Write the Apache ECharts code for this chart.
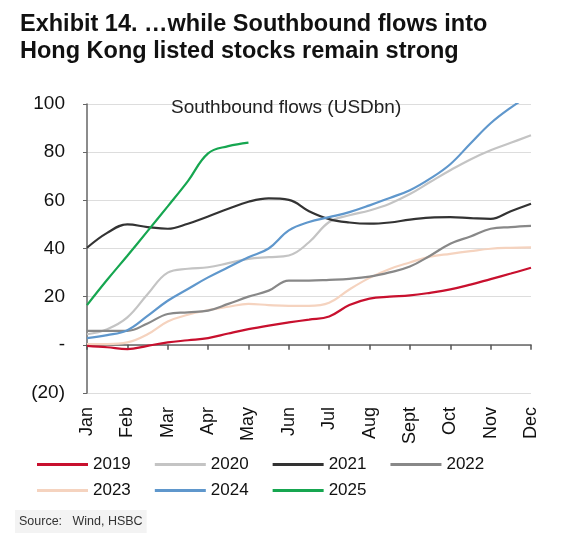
<!DOCTYPE html>
<html>
<head>
<meta charset="utf-8">
<script src="https://cdn.jsdelivr.net/npm/echarts@6/dist/echarts.min.js"></script>
<style>
html,body{margin:0;padding:0;background:#fff;}
#chart{width:572px;height:544px;}
</style>
</head>
<body>
<div id="chart"></div>
<script>
// Half-month sample points (Jan, mid-Jan, Feb, ...)
const categories = ['Jan','','Feb','','Mar','','Apr','','May','','Jun','','Jul','','Aug','','Sept','','Oct','','Nov','','Dec'];
const yTicks = [-20, 0, 20, 40, 60, 80, 100];

const s2019 = [-0.4, -1.0, -1.8, -0.4, 1.0, 1.9, 2.8, 4.7, 6.5, 8.0, 9.3, 10.5, 11.8, 16.5, 19.2, 20.0, 20.5, 21.6, 23.0, 25.0, 27.3, 29.6, 32.0];
const s2020 = [4.4, 6.5, 11.4, 21.0, 30.0, 31.6, 32.2, 33.9, 35.7, 36.4, 37.1, 42.6, 51.0, 53.8, 55.8, 58.6, 62.6, 67.6, 72.5, 77.0, 80.8, 83.9, 87.0];
const s2021 = [40.3, 46.5, 50.0, 48.9, 48.2, 50.3, 53.3, 56.5, 59.4, 60.8, 60.2, 55.5, 52.2, 50.8, 50.3, 50.8, 52.0, 52.8, 53.0, 52.6, 52.3, 55.5, 58.6];
const s2022 = [5.8, 5.8, 5.8, 8.9, 12.8, 13.5, 14.2, 17.0, 20.0, 22.5, 26.7, 26.7, 27.0, 27.4, 28.3, 30.1, 32.5, 37.0, 42.0, 45.0, 48.2, 48.9, 49.4];
const s2023 = [0.3, 0.3, 1.0, 4.4, 9.7, 12.5, 14.4, 15.8, 17.0, 16.5, 16.2, 16.2, 17.5, 23.0, 27.8, 31.5, 34.2, 36.6, 37.8, 38.9, 39.9, 40.3, 40.5];
const s2024 = [2.8, 4.0, 6.1, 12.0, 18.3, 23.2, 28.0, 32.2, 36.4, 40.0, 47.5, 51.0, 53.0, 55.1, 57.9, 61.0, 64.2, 69.0, 75.0, 83.6, 92.0, 98.5, 104.0];
const s2025 = [16.5, 27.0, 37.0, 47.2, 57.5, 68.0, 79.5, 82.5, 84.0];

const seriesNames = ['2019','2020','2021','2022','2023','2024','2025'];
const seriesData = [s2019, s2020, s2021, s2022, s2023, s2024, s2025];
const seriesColors = ['#C8102E','#C4C4C4','#333333','#888888','#F5D3BF','#5F97CC','#16A650'];

const FONT = "'Liberation Sans', Arial, sans-serif";
const chart = echarts.init(document.getElementById('chart'), null, {renderer:'canvas'});

const series = seriesNames.map((n, i) => ({
  name: n,
  type: 'line',
  data: seriesData[i],
  smooth: 0.4,
  showSymbol: false,
  symbol: 'none',
  clip: true,
  lineStyle: {width: 2.2, color: seriesColors[i]},
  itemStyle: {color: seriesColors[i]},
  z: (n === '2023') ? 1 : 2
}));

const legendCommon = {
  left: 37,
  padding: 0,
  orient: 'horizontal',
  icon: 'rect',
  itemWidth: 51,
  itemHeight: 3,
  itemGap: 24,
  textStyle: {fontFamily: FONT, fontSize: 17, color: '#111'},
  selectedMode: false
};

chart.setOption({
  animation: false,
  title: [{
    text: 'Exhibit 14. …while Southbound flows into\nHong Kong listed stocks remain strong',
    left: 20, top: 11, padding: 0,
    textStyle: {fontFamily: FONT, fontWeight: 'bold', fontSize: 23.5, lineHeight: 27, color: '#111'}
  }, {
    text: 'Southbound flows (USDbn)',
    left: 171, top: 98, padding: 0,
    textStyle: {fontFamily: FONT, fontWeight: 'normal', fontSize: 19, color: '#222'}
  }, {
    text: 'Source:   Wind, HSBC',
    left: 15, top: 510,
    backgroundColor: '#F3F3F3',
    padding: [5, 4, 5, 4],
    textStyle: {fontFamily: FONT, fontWeight: 'normal', fontSize: 12.5, color: '#333'}
  }],
  legend: [
    Object.assign({}, legendCommon, {top: 456, data: ['2019','2020','2021','2022']}),
    Object.assign({}, legendCommon, {top: 482, data: ['2023','2024','2025']})
  ],
  grid: {left: 87, right: 41, top: 104, bottom: 151, containLabel: false},
  xAxis: [{
    type: 'category',
    data: categories,
    boundaryGap: false,
    position: 'bottom',
    axisLine: {onZero: true, lineStyle: {color: '#666', width: 1.5}},
    axisTick: {show: true, length: 5, interval: (i) => i % 2 === 0, lineStyle: {color: '#555', width: 1.5}},
    axisLabel: {show: false},
    splitLine: {show: false}
  }, {
    type: 'category',
    data: categories,
    boundaryGap: false,
    position: 'bottom',
    axisLine: {show: false, onZero: false},
    axisTick: {show: false},
    axisLabel: {show: true, interval: 0, rotate: 90, margin: 14, fontFamily: FONT, fontSize: 18, color: '#111'},
    splitLine: {show: false}
  }],
  yAxis: {
    type: 'value',
    min: yTicks[0], max: yTicks[yTicks.length - 1], interval: 20,
    axisLine: {show: true, lineStyle: {color: '#666', width: 1.5}},
    axisTick: {show: true, length: 4, lineStyle: {color: '#666'}},
    axisLabel: {
      margin: 22, fontFamily: FONT, fontSize: 19, color: '#111',
      formatter: (v) => v === 0 ? '-' : (v < 0 ? '(' + Math.abs(v) + ')' : String(v))
    },
    splitLine: {show: true, lineStyle: {color: '#DDDDDD', width: 1}}
  },
  series: series
});
</script>
</body>
</html>
